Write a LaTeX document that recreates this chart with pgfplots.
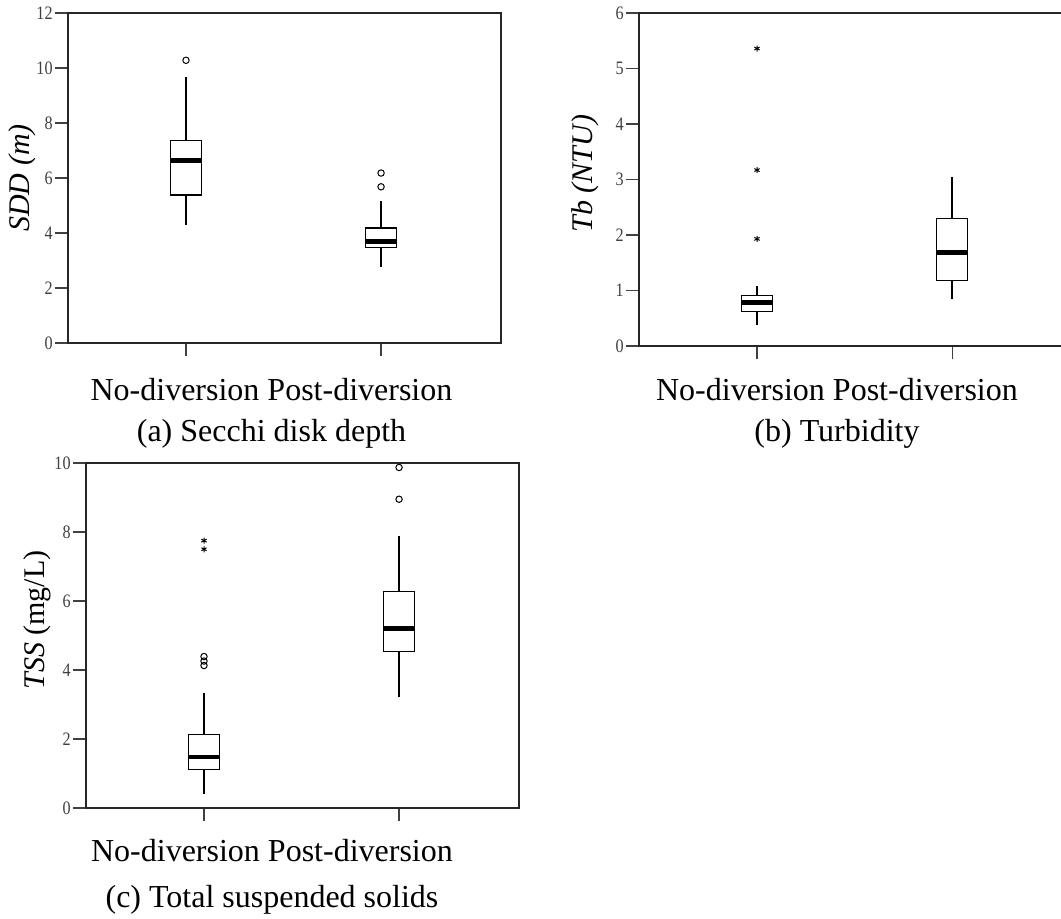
\documentclass[border=0pt]{standalone}
\usepackage{fontspec}
\setmainfont{Liberation Serif}
\newfontfamily\tickfont[FakeStretch=0.85]{Liberation Serif}
\usepackage{pgfplots}
\pgfplotsset{compat=1.18}
\usepgfplotslibrary{statistics}

\pgfplotsset{
 spss/.style={
  scale only axis, width=216.5pt,
  xmin=0.395, xmax=2.615,
  xtick={1,2}, xticklabels={},
  tick align=outside, major tick length=6.5pt,
  xtick pos=bottom, ytick pos=left,
  axis line style={line width=0.55pt, black!85},
  tick style={line width=0.55pt, black!75},
  yticklabel style={font=\tickfont\fontsize{9.5}{9.5}\selectfont, text=black!75, inner sep=1pt},
  /pgf/number format/assume math mode=true,
  every axis y label/.style={rotate=90, anchor=center, font=\fontsize{15}{15}\selectfont},
  boxplot/draw direction=y,
  boxplot/box extend=0.159,
  boxplot/whisker extend=0,
  boxplot/every median/.style={line width=2.3pt, black},
  boxplot/every box/.style={draw=black, line width=0.6pt, fill=white},
  boxplot/every whisker/.style={line width=0.7pt, black},
 },
 circ/.style={black, mark=o, mark size=1.6pt, mark options={line width=0.5pt, solid, fill=white}},
 star/.style={black, mark=asterisk, mark size=1.5pt, mark options={line width=0.5pt, solid}},
}

\begin{document}
\begin{tikzpicture}
% (a) Secchi disk depth
\begin{axis}[spss, at={(34pt,287.5pt)}, anchor=south west, height=165pt,
  ymin=0, ymax=12, ytick={0,2,...,12},
  ylabel={\itshape SDD (m)},
  ylabel style={at={(axis description cs:-0.106,0.5)}}]
\addplot[circ, boxplot prepared={draw position=1, lower whisker=4.28, lower quartile=5.38,
  median=6.64, upper quartile=7.35, upper whisker=9.68}] coordinates {(0,10.28)};
\addplot[circ, boxplot prepared={draw position=2, lower whisker=2.77, lower quartile=3.48,
  median=3.69, upper quartile=4.18, upper whisker=5.17}] coordinates {(0,5.68)(0,6.18)};
\end{axis}

% (b) Turbidity
\begin{axis}[spss, at={(319.5pt,286pt)}, anchor=south west, height=166.5pt,
  ymin=0, ymax=6, ytick={0,1,...,6},
  ylabel={\itshape Tb (NTU)},
  ylabel style={at={(axis description cs:-0.125,0.518)}}]
\addplot[star, boxplot prepared={draw position=1, lower whisker=0.37, lower quartile=0.625,
  median=0.787, upper quartile=0.906, upper whisker=1.09}] coordinates {(0,1.93)(0,3.17)(0,5.36)};
\addplot[circ, boxplot prepared={draw position=2, lower whisker=0.84, lower quartile=1.18,
  median=1.69, upper quartile=2.30, upper whisker=3.05}] coordinates {};
\end{axis}

% (c) Total suspended solids
\begin{axis}[spss, at={(43pt,55pt)}, anchor=south west, height=172.5pt,
  ymin=0, ymax=10, ytick={0,2,...,10},
  ylabel={\textit{TSS} (mg/L)},
  ylabel style={at={(axis description cs:-0.113,0.545)}}]
\addplot[circ, boxplot prepared={draw position=1, lower whisker=0.40, lower quartile=1.12,
  median=1.48, upper quartile=2.13, upper whisker=3.32}] coordinates {(0,4.13)(0,4.26)(0,4.39)};
\addplot[star, only marks] coordinates {(1,7.50)(1,7.75)};
\addplot[circ, boxplot prepared={draw position=2, lower whisker=3.22, lower quartile=4.53,
  median=5.20, upper quartile=6.28, upper whisker=7.87}] coordinates {(0,8.95)(0,9.87)};
\end{axis}

\begin{scope}[every node/.style={anchor=base, font=\fontsize{16}{16}\selectfont, inner sep=0pt}]
\node at (135.75pt,259pt) {No-diversion Post-diversion};
\node at (135.75pt,238.2pt) {(a) Secchi disk depth};
\node at (418.5pt,259pt) {No-diversion Post-diversion};
\node at (418.5pt,238.5pt) {(b) Turbidity};
\node at (136pt,28.5pt) {No-diversion Post-diversion};
\node at (136pt,5.5pt) {(c) Total suspended solids};
\end{scope}

\pgfresetboundingbox
\path[use as bounding box] (0,0) rectangle (530.5pt,459pt);
\end{tikzpicture}
\end{document}
